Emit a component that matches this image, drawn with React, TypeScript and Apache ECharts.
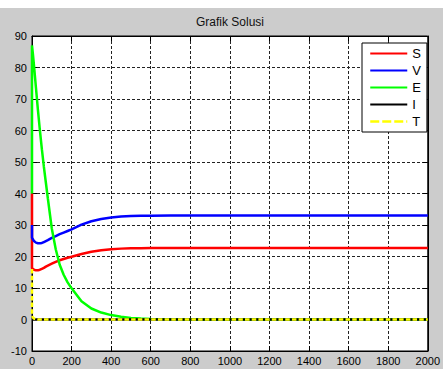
import React, { useEffect, useRef } from "react";
import * as echarts from "echarts";

// time samples (first two both at t = 0: the instant initial jump)
const timeValues = [0, 0, 5, 10, 20, 30, 40, 50, 60, 70, 80, 100, 120, 140, 160, 180, 200, 250, 300, 350, 400, 450, 500, 550, 600, 700, 800, 1000, 1200, 1400, 1600, 1800, 2000];

const sValues = [40, 16.3, 16.1, 15.8, 15.6, 15.6, 15.8, 16.1, 16.4, 16.8, 17.1, 17.7, 18.3, 18.8, 19.2, 19.6, 19.9, 20.8, 21.5, 22.0, 22.3, 22.5, 22.6, 22.65, 22.7, 22.7, 22.7, 22.7, 22.7, 22.7, 22.7, 22.7, 22.7];
const vValues = [30, 26.0, 25.4, 24.9, 24.4, 24.2, 24.2, 24.3, 24.6, 24.9, 25.2, 25.9, 26.5, 27.1, 27.6, 28.1, 28.6, 30.1, 31.2, 31.9, 32.4, 32.7, 32.85, 32.9, 32.95, 33.0, 33.0, 33.0, 33.0, 33.0, 33.0, 33.0, 33.0];
const eValues = [40, 87, 84, 80.7, 73.5, 66.5, 60, 54, 48.5, 43.5, 38.5, 28.9, 22.3, 17.4, 14.2, 11.8, 9.9, 5.8, 3.5, 2.2, 1.4, 0.9, 0.5, 0.3, 0.15, 0.05, 0, 0, 0, 0, 0, 0, 0];
const iValues = [0, 0, 0, 0, 0, 0, 0, 0, 0, 0, 0, 0, 0, 0, 0, 0, 0, 0, 0, 0, 0, 0, 0, 0, 0, 0, 0, 0, 0, 0, 0, 0, 0];
const tValues = [16, 1.2, 0.6, 0.3, 0.1, 0, 0, 0, 0, 0, 0, 0, 0, 0, 0, 0, 0, 0, 0, 0, 0, 0, 0, 0, 0, 0, 0, 0, 0, 0, 0, 0, 0];

const seriesNames = ["S", "V", "E", "I", "T"];
const seriesColors = ["#ff0000", "#0000ff", "#00ff00", "#000000", "#ffff00"];
const seriesValues = [sValues, vValues, eValues, iValues, tValues];

const titleText = "Grafik Solusi";
const xMin = 0, xMax = 2000, xStep = 200;
const yMin = -10, yMax = 90, yStep = 10;

const FONT = "'Liberation Sans', Arial, sans-serif";

export default function App() {
  const ref = useRef<HTMLDivElement>(null);
  useEffect(() => {
    document.body.style.margin = "0";
    const chart = echarts.init(ref.current!, null, { renderer: "svg" });
    const gridLine = { show: true, lineStyle: { color: "#222", width: 1, type: [3, 2] as any } };
    const tickStyle = { show: true, inside: true, length: 5, lineStyle: { color: "#000", width: 1 } };
    const axisLine = { show: true, onZero: false, lineStyle: { color: "#000", width: 1 } };
    const label = { color: "#000", fontSize: 11, fontFamily: FONT, formatter: (v: number) => String(v) };
    chart.setOption({
      animation: false,
      backgroundColor: "#cccccc",
      graphic: [
        { type: "rect", left: 0, top: 0, shape: { width: 443, height: 8 }, style: { fill: "#ffffff" }, z: -10 },
      ],
      title: {
        text: titleText,
        left: 230,
        textAlign: "center",
        top: 16,
        padding: 0,
        textStyle: { fontSize: 12, fontWeight: "normal", color: "#111", fontFamily: FONT },
      },
      legend: {
        show: true,
        orient: "vertical",
        left: 362,
        top: 43,
        padding: [4, 6, 4, 7],
        itemWidth: 37,
        itemHeight: 13,
        itemGap: 4,
        backgroundColor: "#ffffff",
        borderColor: "#000",
        borderWidth: 1,
        itemStyle: { opacity: 0, borderWidth: 0 },
        textStyle: { fontSize: 13, color: "#000", fontFamily: FONT },
        data: seriesNames.map((n, i) =>
          i === 4 ? { name: n, lineStyle: { type: [9, 3], width: 2.5 } } : { name: n }
        ),
      },
      grid: {
        left: 32,
        right: 14,
        top: 36,
        bottom: 18,
        show: true,
        backgroundColor: "#ffffff",
        borderColor: "#000",
        borderWidth: 1,
      },
      xAxis: [
        {
          type: "value",
          min: xMin,
          max: xMax,
          interval: xStep,
          axisLine,
          axisTick: tickStyle,
          axisLabel: { ...label, margin: 4 },
          splitLine: gridLine,
        },
        {
          type: "value",
          position: "top",
          min: xMin,
          max: xMax,
          interval: xStep,
          axisLine,
          axisTick: tickStyle,
          axisLabel: { show: false },
          splitLine: { show: false },
        },
      ],
      yAxis: [
        {
          type: "value",
          min: yMin,
          max: yMax,
          interval: yStep,
          axisLine,
          axisTick: tickStyle,
          axisLabel: { ...label, margin: 5 },
          splitLine: gridLine,
        },
        {
          type: "value",
          position: "right",
          min: yMin,
          max: yMax,
          interval: yStep,
          axisLine,
          axisTick: tickStyle,
          axisLabel: { show: false },
          splitLine: { show: false },
        },
      ],
      series: seriesNames.map((name, i) => ({
        name,
        type: "line",
        xAxisIndex: 0,
        yAxisIndex: 0,
        symbol: "none",
        showSymbol: false,
        color: seriesColors[i],
        lineStyle: {
          color: seriesColors[i],
          width: 2.5,
          type: i === 4 ? ([4.5, 2.2] as any) : "solid",
        },
        data: timeValues.map((t, k) => [t, seriesValues[i][k]]),
      })),
    });
    return () => chart.dispose();
  }, []);
  return <div ref={ref} style={{ width: 443, height: 369 }} />;
}
